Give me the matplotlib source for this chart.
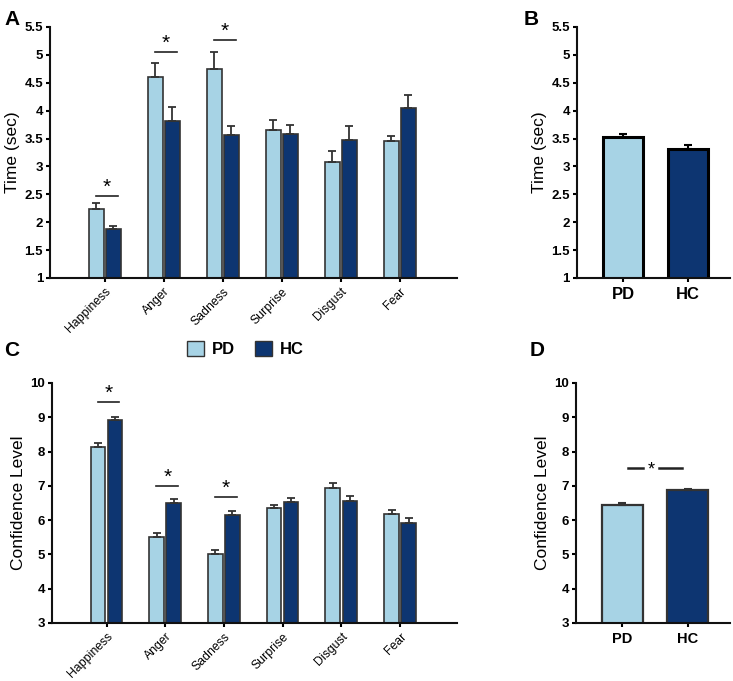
import matplotlib.pyplot as plt
import numpy as np
from matplotlib.patches import Patch

emotions = ["Happiness", "Anger", "Sadness", "Surprise", "Disgust", "Fear"]
groups = ["PD", "HC"]

# A: response time (sec) per emotion
time_pd = [2.23, 4.60, 4.75, 3.66, 3.08, 3.45]
time_pd_err = [0.11, 0.25, 0.31, 0.18, 0.20, 0.10]
time_hc = [1.87, 3.81, 3.57, 3.58, 3.47, 4.05]
time_hc_err = [0.06, 0.25, 0.16, 0.17, 0.25, 0.23]
time_sig = {0: 2.47, 1: 5.05, 2: 5.27}

# B: overall time
time_all = [3.53, 3.32]
time_all_err = [0.06, 0.07]

# C: confidence level per emotion
conf_pd = [8.12, 5.50, 5.00, 6.35, 6.95, 6.18]
conf_pd_err = [0.13, 0.13, 0.12, 0.10, 0.12, 0.12]
conf_hc = [8.92, 6.50, 6.15, 6.53, 6.55, 5.92]
conf_hc_err = [0.08, 0.12, 0.13, 0.13, 0.14, 0.13]
conf_sig = {0: 9.45, 1: 7.0, 2: 6.68}

# D: overall confidence
conf_all = [6.45, 6.87]
conf_all_err = [0.04, 0.03]
conf_all_sig = 7.52

light = "#a7d3e5"
dark = "#0d3571"
edge = "#333333"

plt.rcParams["font.family"] = ["Liberation Sans", "DejaVu Sans"]

fig = plt.figure(figsize=(7.33, 6.81), dpi=100)
axA = fig.add_axes([0.0682, 0.5918, 0.5553, 0.3686])
axB = fig.add_axes([0.787, 0.5918, 0.209, 0.3686])
axC = fig.add_axes([0.0709, 0.0852, 0.5525, 0.3524])
axD = fig.add_axes([0.786, 0.0852, 0.21, 0.3524])


def style(ax):
    for s in ["top", "right"]:
        ax.spines[s].set_visible(False)
    for s in ["left", "bottom"]:
        ax.spines[s].set_linewidth(1.5)
        ax.spines[s].set_color("#111111")
    ax.tick_params(axis="both", direction="out", length=3, width=1.5)
    ax.tick_params(axis="y", pad=2)
    for lab in ax.get_yticklabels():
        lab.set_fontweight("bold")
        lab.set_fontsize(9.5)


def emotion_panel(ax, pd_v, pd_e, hc_v, hc_e, sig, ylim, yticks, ylabel):
    x = np.arange(len(emotions))
    w = 0.25
    ax.bar(x - 0.145, pd_v, w, yerr=[np.zeros(len(pd_e)), pd_e], color=light,
           edgecolor=edge, linewidth=1.2, error_kw=dict(ecolor=edge, elinewidth=1.3, capsize=3, capthick=1.3))
    ax.bar(x + 0.145, hc_v, w, yerr=[np.zeros(len(hc_e)), hc_e], color=dark,
           edgecolor=edge, linewidth=1.2, error_kw=dict(ecolor=edge, elinewidth=1.3, capsize=3, capthick=1.3))
    span = ylim[1] - ylim[0]
    for i, y in sig.items():
        ax.plot([i - 0.15, i + 0.22], [y, y], color="#222222", lw=1.2)
        ax.text(i + 0.035, y - span * 0.005, "*", ha="center", va="bottom", fontsize=15)
    ax.set_xlim(-0.93, 5.97)
    ax.set_ylim(*ylim)
    ax.set_yticks(yticks)
    ax.set_yticklabels([f"{t:g}" for t in yticks])
    ax.set_xticks(x)
    ax.set_xticklabels(emotions, rotation=45, ha="right", rotation_mode="anchor", fontsize=8.8)
    ax.tick_params(axis="x", pad=2.5)
    ax.set_ylabel(ylabel, fontsize=12.5, labelpad=3)
    style(ax)


def total_panel(ax, vals, errs, ylim, yticks, ylabel, thick):
    x = np.arange(2)
    lw = 2.2 if thick else 1.6
    ec = "#000000" if thick else edge
    ax.bar(x, vals, 0.62, yerr=[[0, 0], errs], color=[light, dark], edgecolor=ec, linewidth=lw,
           error_kw=dict(ecolor=ec, elinewidth=1.5, capsize=3, capthick=1.5))
    ax.set_xlim(-0.71, 1.65)
    ax.set_ylim(*ylim)
    ax.set_yticks(yticks)
    ax.set_yticklabels([f"{t:g}" for t in yticks])
    ax.set_xticks(x)
    ax.set_xticklabels(groups, fontweight="bold", fontsize=12 if thick else 10.5)
    ax.set_ylabel(ylabel, fontsize=12.5, labelpad=3)
    style(ax)


t_ticks = [1, 1.5, 2, 2.5, 3, 3.5, 4, 4.5, 5, 5.5]
c_ticks = [3, 4, 5, 6, 7, 8, 9, 10]

emotion_panel(axA, time_pd, time_pd_err, time_hc, time_hc_err, time_sig, (1, 5.5), t_ticks, "Time (sec)")
emotion_panel(axC, conf_pd, conf_pd_err, conf_hc, conf_hc_err, conf_sig, (3, 10), c_ticks, "Confidence Level")
total_panel(axB, time_all, time_all_err, (1, 5.5), t_ticks, "Time (sec)", True)
total_panel(axD, conf_all, conf_all_err, (3, 10), c_ticks, "Confidence Level", False)

# significance marker for D
axD.plot([0.08, 0.32], [conf_all_sig, conf_all_sig], color="#222222", lw=1.8)
axD.plot([0.56, 0.92], [conf_all_sig, conf_all_sig], color="#222222", lw=1.8)
axD.text(0.44, conf_all_sig - 0.05, "*", ha="center", va="center", fontsize=13)

# legend
handles = [Patch(facecolor=light, edgecolor=edge, label="PD"),
           Patch(facecolor=dark, edgecolor=edge, label="HC")]
fig.legend(handles=handles, loc="center", bbox_to_anchor=(0.335, 1 - 349 / 681), ncol=2, frameon=False,
           prop=dict(weight="bold", size=12), handlelength=1.0, handleheight=1.0, columnspacing=1.2,
           handletextpad=0.5)

for lab, x, y in [("A", 0.006, 0.985), ("B", 0.715, 0.985), ("C", 0.006, 0.5), ("D", 0.722, 0.5)]:
    fig.text(x, y, lab, fontsize=15, fontweight="bold", va="top")

fig.savefig("out.png", dpi=100)
